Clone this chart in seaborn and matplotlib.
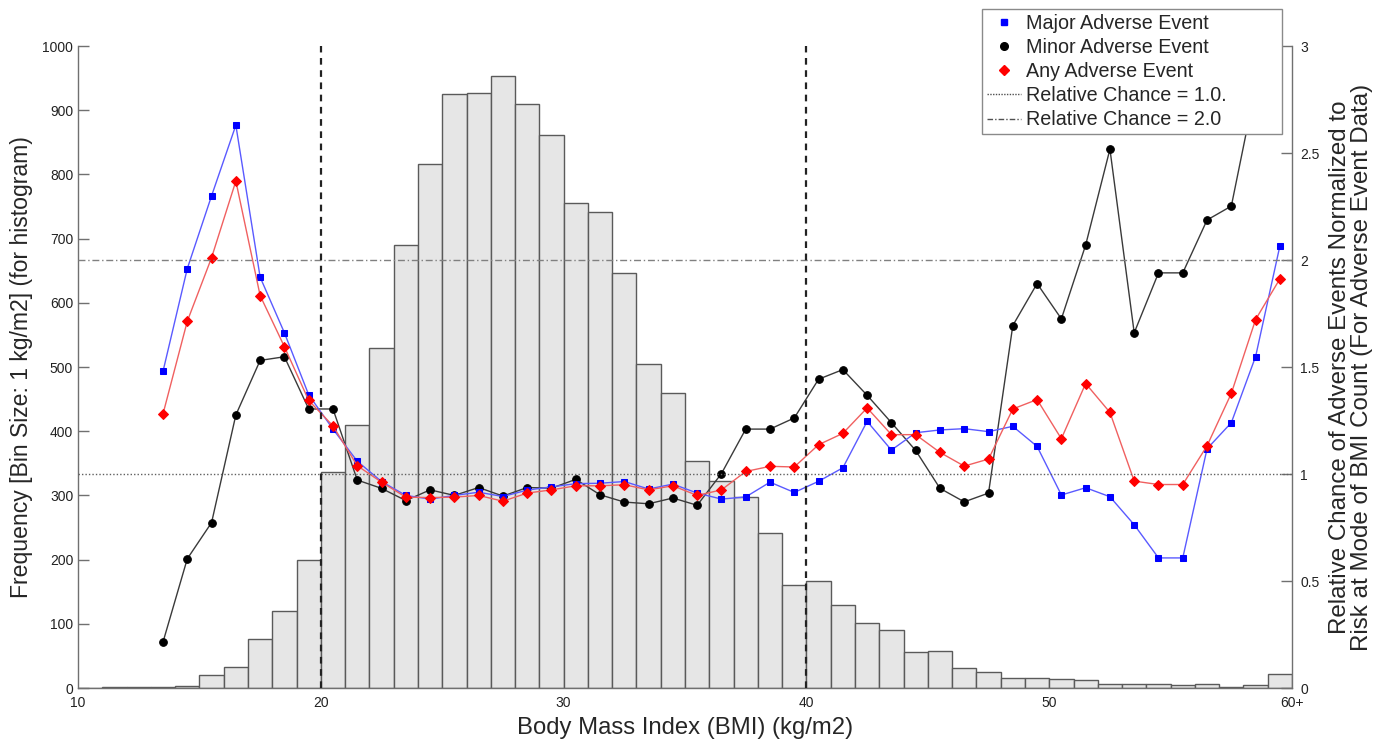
import numpy as np
import pandas as pd
import matplotlib
matplotlib.use("Agg")
import matplotlib.pyplot as plt
from matplotlib.lines import Line2D
import seaborn as sns

# ---------------- data ----------------
bin_left = list(range(10, 60))
counts = [0, 1, 1, 2, 3, 20, 33, 77, 120, 200,
          336, 410, 529, 690, 816, 926, 927, 954, 910, 862,
          756, 742, 647, 505, 460, 354, 323, 298, 241, 160,
          167, 130, 101, 91, 56, 57, 31, 25, 16, 16,
          14, 12, 6, 7, 6, 5, 7, 1, 5, 22]

event_x = [13.5 + i for i in range(47)]
major = [1.48, 1.96, 2.30, 2.63, 1.92, 1.66, 1.37, 1.21, 1.06, 0.965,
         0.90, 0.883, 0.90, 0.915, 0.895, 0.925, 0.94, 0.955, 0.957, 0.965,
         0.93, 0.953, 0.911, 0.883, 0.893, 0.962, 0.914, 0.966, 1.029, 1.246,
         1.112, 1.193, 1.206, 1.212, 1.198, 1.223, 1.129, 0.902, 0.936, 0.894,
         0.763, 0.608, 0.608, 1.118, 1.240, 1.549, 2.066]
minor = [0.215, 0.604, 0.773, 1.276, 1.531, 1.548, 1.304, 1.304, 0.972, 0.933,
         0.876, 0.926, 0.900, 0.937, 0.897, 0.937, 0.934, 0.975, 0.903, 0.869,
         0.861, 0.888, 0.854, 1.002, 1.210, 1.210, 1.262, 1.443, 1.488, 1.368,
         1.240, 1.110, 0.933, 0.870, 0.911, 1.694, 1.890, 1.725, 2.070, 2.518,
         1.660, 1.940, 1.940, 2.187, 2.252, 2.81, 3.4]
anyev = [1.281, 1.714, 2.011, 2.369, 1.834, 1.595, 1.344, 1.225, 1.039, 0.962,
         0.892, 0.890, 0.892, 0.900, 0.873, 0.911, 0.926, 0.945, 0.945, 0.950,
         0.926, 0.945, 0.900, 0.926, 1.012, 1.036, 1.033, 1.137, 1.190, 1.309,
         1.184, 1.184, 1.101, 1.037, 1.070, 1.304, 1.348, 1.165, 1.423, 1.288,
         0.967, 0.951, 0.951, 1.132, 1.377, 1.722, 1.912]

x_ticks = [10, 20, 30, 40, 50, 60]
x_ticklabels = ["10", "20", "30", "40", "50", "60+"]
left_ticks = list(range(0, 1001, 100))
right_ticks = [0, 0.5, 1, 1.5, 2, 2.5, 3]
right_ticklabels = ["0", "0.5", "1", "1.5", "2", "2.5", "3"]

# ---------------- style ----------------
sns.set_style("white")
plt.rcParams["font.family"] = ["Liberation Sans", "DejaVu Sans"]
spine_col = "#707070"

fig = plt.figure(figsize=(13.86, 7.46), dpi=100)
ax = fig.add_axes([0.0563, 0.0777, 0.8759, 0.8606])

hist_df = pd.DataFrame({"bmi": [b + 0.5 for b in bin_left], "count": counts})
edges = bin_left + [60]
sns.histplot(data=hist_df, x="bmi", weights="count", bins=edges, ax=ax,
             color="#e6e6e6", edgecolor="#5a5a5a", linewidth=1.0, alpha=1.0,
             legend=False)

ax.set_xlim(10, 60)
ax.set_ylim(0, 1000)
ax.set_xticks(x_ticks)
ax.set_xticklabels(x_ticklabels)
ax.set_yticks(left_ticks)
ax.set_xlabel("Body Mass Index (BMI) (kg/m2)", fontsize=17.2, labelpad=5)
ax.set_ylabel("Frequency [Bin Size: 1 kg/m2] (for histogram)", fontsize=16.6, labelpad=7)
ax.tick_params(axis="both", direction="in", length=8, width=1, colors=spine_col,
               labelcolor="#222222", labelsize=10)
ax.tick_params(axis="x", pad=6)
for s in ["top", "right"]:
    ax.spines[s].set_visible(False)
for s in ["left", "bottom"]:
    ax.spines[s].set_color(spine_col)
    ax.spines[s].set_linewidth(1)

ax2 = ax.twinx()
ev_df = pd.DataFrame({"x": event_x, "major": major, "minor": minor, "any": anyev})

sns.lineplot(data=ev_df, x="x", y="minor", ax=ax2, color="#3a3a3a", linewidth=1.0,
             marker="o", markersize=5.5, markerfacecolor="black", markeredgecolor="black")
sns.lineplot(data=ev_df, x="x", y="major", ax=ax2, color="#5a5aff", linewidth=1.0,
             marker="s", markersize=4.5, markerfacecolor="#0000ff", markeredgecolor="#0000ff")
sns.lineplot(data=ev_df, x="x", y="any", ax=ax2, color="#f06060", linewidth=1.0,
             marker="D", markersize=5, markerfacecolor="#ff0000", markeredgecolor="#ff0000")

ax2.axhline(1.0, color="#606060", linestyle=(0, (1, 1.5)), linewidth=1.0)
ax2.axhline(2.0, color="#808080", linestyle=(0, (5, 2, 1, 2)), linewidth=1.0)
ax2.axvline(20, color="#222222", linestyle=(0, (3, 2.5)), linewidth=1.6)
ax2.axvline(40, color="#222222", linestyle=(0, (3, 2.5)), linewidth=1.6)

ax2.set_xlim(10, 60)
ax2.set_ylim(0, 3)
ax2.set_yticks(right_ticks)
ax2.set_yticklabels(right_ticklabels)
ax2.set_xlabel("")
ax2.set_ylabel("Relative Chance of Adverse Events Normalized to\n"
               "Risk at Mode of BMI Count (For Adverse Event Data)",
               fontsize=17.4, labelpad=7, linespacing=1.0)
ax2.tick_params(axis="y", direction="in", length=8, width=1, colors=spine_col,
                labelcolor="#222222", labelsize=10, pad=6)
for s in ["top", "left", "bottom"]:
    ax2.spines[s].set_visible(False)
ax2.spines["right"].set_color(spine_col)
ax2.spines["right"].set_linewidth(1)

handles = [
    Line2D([], [], linestyle="none", marker="s", markersize=4.5, color="#0000ff"),
    Line2D([], [], linestyle="none", marker="o", markersize=5.5, color="black"),
    Line2D([], [], linestyle="none", marker="D", markersize=5, color="#ff0000"),
    Line2D([], [], color="#505050", linestyle=(0, (1, 1)), linewidth=1.0),
    Line2D([], [], color="#505050", linestyle=(0, (4, 1.5, 1, 1.5)), linewidth=1.0),
]
labels = ["Major Adverse Event", "Minor Adverse Event", "Any Adverse Event",
          "Relative Chance = 1.0.", "Relative Chance = 2.0"]
leg_left = 982 / 1386
leg_top = (746 - 9) / 746
leg_w = 300 / 1386
leg = ax2.legend(handles, labels, loc="upper left", mode="expand",
                 bbox_to_anchor=(leg_left, leg_top - 0.2, leg_w, 0.2),
                 bbox_transform=fig.transFigure, borderaxespad=0,
                 fontsize=14.2, frameon=True, fancybox=False, framealpha=1.0,
                 edgecolor="#8a8a8a", handlelength=1.75, handletextpad=0.25,
                 labelspacing=0.26, borderpad=0.25)
leg.get_frame().set_linewidth(1.0)
leg.set_zorder(10)

fig.savefig("out.png", dpi=100)
